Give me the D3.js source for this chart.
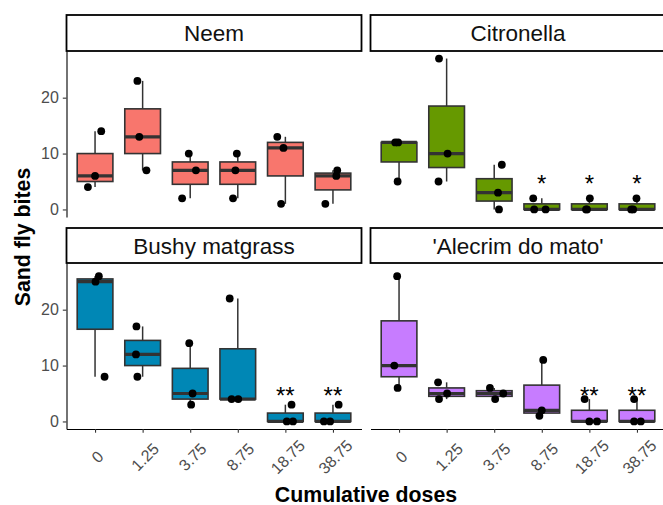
<!DOCTYPE html>
<html>
<head>
<meta charset="utf-8">
<script src="https://cdn.jsdelivr.net/npm/d3@7"></script>
<style>
  html, body { margin: 0; padding: 0; background: #fff; }
  svg { display: block; font-family: "Liberation Sans", Arial, Helvetica, sans-serif; }
</style>
</head>
<body>
<svg id="chart" width="663" height="505"></svg>
<script>
// ---------------- data ----------------
const categories = ["0", "1.25", "3.75", "8.75", "18.75", "38.75"];
const panelNames = ["Neem", "Citronella", "Bushy matgrass", "'Alecrim do mato'"];
const panelColors = ["#F8766D", "#669900", "#0087B5", "#C77CFF"];

// sand fly bites, three observations per dose
const neem       = [[4, 6, 14], [7, 13, 23], [2, 7, 10], [2, 7, 10], [1, 11, 13], [1, 6, 7]];
const citronella = [[5, 12, 12], [5, 10, 27], [0, 3, 8], [0, 0, 2], [0, 0, 2], [0, 0, 2]];
const bushy      = [[8, 25, 26], [8, 12, 17], [3, 5, 14], [4, 4, 22], [0, 0, 3], [0, 0, 3]];
const alecrim    = [[6, 10, 26], [4, 5, 7], [4, 5, 6], [1, 2, 11], [0, 0, 4], [0, 0, 4]];

// horizontal jitter of the points (fraction of one category step)
const neemJitter       = [[-0.15, 0, 0.13], [0.08, -0.07, -0.11], [-0.17, 0.12, -0.03], [-0.1, -0.05, -0.02], [-0.09, -0.04, -0.17], [-0.16, 0.07, 0.09]];
const citronellaJitter = [[-0.03, -0.08, -0.02], [-0.17, 0.02, -0.16], [0.1, 0.08, 0.16], [-0.16, 0.08, -0.18], [-0.07, -0.05, 0.01], [-0.08, -0.12, -0.01]];
const bushyJitter      = [[0.2, 0.01, 0.08], [-0.11, -0.14, -0.13], [0.02, 0.05, -0.02], [-0.13, 0.01, -0.17], [0.03, 0.16, 0.13], [-0.19, -0.06, 0.12]];
const alecrimJitter    = [[-0.03, -0.1, -0.04], [-0.16, 0.01, -0.18], [0.02, 0.19, -0.09], [-0.05, 0, 0.03], [0, 0.16, -0.1], [-0.06, 0.08, -0.06]];

// significance marks
const neemStars       = ["", "", "", "", "", ""];
const citronellaStars = ["", "", "", "*", "*", "*"];
const bushyStars      = ["", "", "", "", "**", "**"];
const alecrimStars    = ["", "", "", "", "**", "**"];
const starLevel = 5;

const yTicks = [0, 10, 20];
const yDomain = [-1.35, 28.35];

const xTitle = "Cumulative doses";
const yTitle = "Sand fly bites";

// ---------------- layout ----------------
const svg = d3.select("#chart");
svg.append("rect").attr("width", 663).attr("height", 505).attr("fill", "#fff");

const rows = [{ top: 51, bottom: 217, stripTop: 15 }, { top: 263, bottom: 429, stripTop: 228 }];
const cols = [{ left: 66.5, right: 361.5 }, { left: 370.5, right: 665.5 }];

const panelData = [neem, citronella, bushy, alecrim];
const panelJitter = [neemJitter, citronellaJitter, bushyJitter, alecrimJitter];
const panelStars = [neemStars, citronellaStars, bushyStars, alecrimStars];

const tickGrey = "#4D4D4D";
const boxLine = "#333333";

panelNames.forEach((name, p) => {
  const r = rows[Math.floor(p / 2)];
  const c = cols[p % 2];
  const x = d3.scalePoint().domain(categories).range([c.left, c.right]).padding(0.6);
  const y = d3.scaleLinear().domain(yDomain).range([r.bottom, r.top]);
  const step = x.step();
  const half = step * 0.75 / 2;
  const g = svg.append("g");

  // strip
  g.append("rect")
    .attr("x", c.left).attr("y", r.stripTop)
    .attr("width", c.right - c.left).attr("height", r.top - r.stripTop)
    .attr("fill", "#fff").attr("stroke", "#000").attr("stroke-width", 1.8);
  g.append("text")
    .attr("x", (c.left + c.right) / 2)
    .attr("y", (r.stripTop + r.top) / 2)
    .attr("dy", "0.36em")
    .attr("text-anchor", "middle")
    .attr("font-size", 22.5)
    .attr("fill", "#111")
    .text(name);

  const data = panelData[p];
  categories.forEach((cat, i) => {
    const vals = data[i].slice().sort(d3.ascending);
    const q1 = d3.quantile(vals, 0.25), med = d3.quantile(vals, 0.5), q3 = d3.quantile(vals, 0.75);
    const iqr = q3 - q1;
    const lo = d3.min(vals.filter(v => v >= q1 - 1.5 * iqr));
    const hi = d3.max(vals.filter(v => v <= q3 + 1.5 * iqr));
    const cx = x(cat);
    // whiskers
    g.append("line").attr("x1", cx).attr("x2", cx).attr("y1", y(q3)).attr("y2", y(hi))
      .attr("stroke", boxLine).attr("stroke-width", 1.5);
    g.append("line").attr("x1", cx).attr("x2", cx).attr("y1", y(q1)).attr("y2", y(lo))
      .attr("stroke", boxLine).attr("stroke-width", 1.5);
    // box
    g.append("rect")
      .attr("x", cx - half).attr("y", y(q3))
      .attr("width", 2 * half).attr("height", Math.max(0, y(q1) - y(q3)))
      .attr("fill", panelColors[p]).attr("stroke", boxLine).attr("stroke-width", 1.6);
    // median
    g.append("line").attr("x1", cx - half).attr("x2", cx + half)
      .attr("y1", y(med)).attr("y2", y(med))
      .attr("stroke", boxLine).attr("stroke-width", 3.2);
  });

  // jittered points
  categories.forEach((cat, i) => {
    data[i].forEach((v, k) => {
      g.append("circle")
        .attr("cx", x(cat) + panelJitter[p][i][k] * step)
        .attr("cy", y(v))
        .attr("r", 3.9)
        .attr("fill", "#000");
    });
  });

  // stars
  const starSize = 24;
  categories.forEach((cat, i) => {
    const s = panelStars[p][i];
    if (!s) return;
    g.append("text")
      .attr("x", x(cat))
      .attr("y", y(starLevel) + 0.45 * starSize)
      .attr("text-anchor", "middle")
      .attr("font-size", starSize)
      .attr("fill", "#000")
      .text(s);
  });

  // y axis (left column)
  if (p % 2 === 0) {
    const ay = svg.append("g")
      .attr("transform", `translate(${c.left},0)`)
      .call(d3.axisLeft(y).tickValues(yTicks).tickSize(3.7).tickSizeOuter(0).tickPadding(4));
    ay.select(".domain").attr("stroke", "#000").attr("stroke-width", 1.1);
    ay.selectAll(".tick line").attr("stroke", "#333").attr("stroke-width", 1.1);
    ay.selectAll(".tick text").attr("fill", tickGrey).attr("font-size", 16)
      .attr("font-family", "Liberation Sans, Arial, sans-serif");
  }
  // x axis (bottom row)
  if (p >= 2) {
    const ax = svg.append("g")
      .attr("transform", `translate(0,${r.bottom})`)
      .call(d3.axisBottom(x).tickSize(3.7).tickSizeOuter(0));
    ax.select(".domain").attr("stroke", "#000").attr("stroke-width", 1.1);
    ax.selectAll(".tick line").attr("stroke", "#333").attr("stroke-width", 1.1);
    ax.selectAll(".tick text")
      .attr("y", 0).attr("dy", null)
      .attr("fill", tickGrey).attr("font-size", 16)
      .attr("font-family", "Liberation Sans, Arial, sans-serif")
      .attr("text-anchor", "middle")
      .attr("dominant-baseline", "central")
      .attr("transform", "translate(2,28) rotate(-45)");
  }
});

// axis titles
svg.append("text")
  .attr("x", 366).attr("y", 501.5)
  .attr("text-anchor", "middle")
  .attr("font-size", 21.3).attr("font-weight", "bold").attr("fill", "#000")
  .text(xTitle);
svg.append("text")
  .attr("transform", "translate(29.5,237) rotate(-90)")
  .attr("text-anchor", "middle")
  .attr("font-size", 21.3).attr("font-weight", "bold").attr("fill", "#000")
  .text(yTitle);
</script>
</body>
</html>
